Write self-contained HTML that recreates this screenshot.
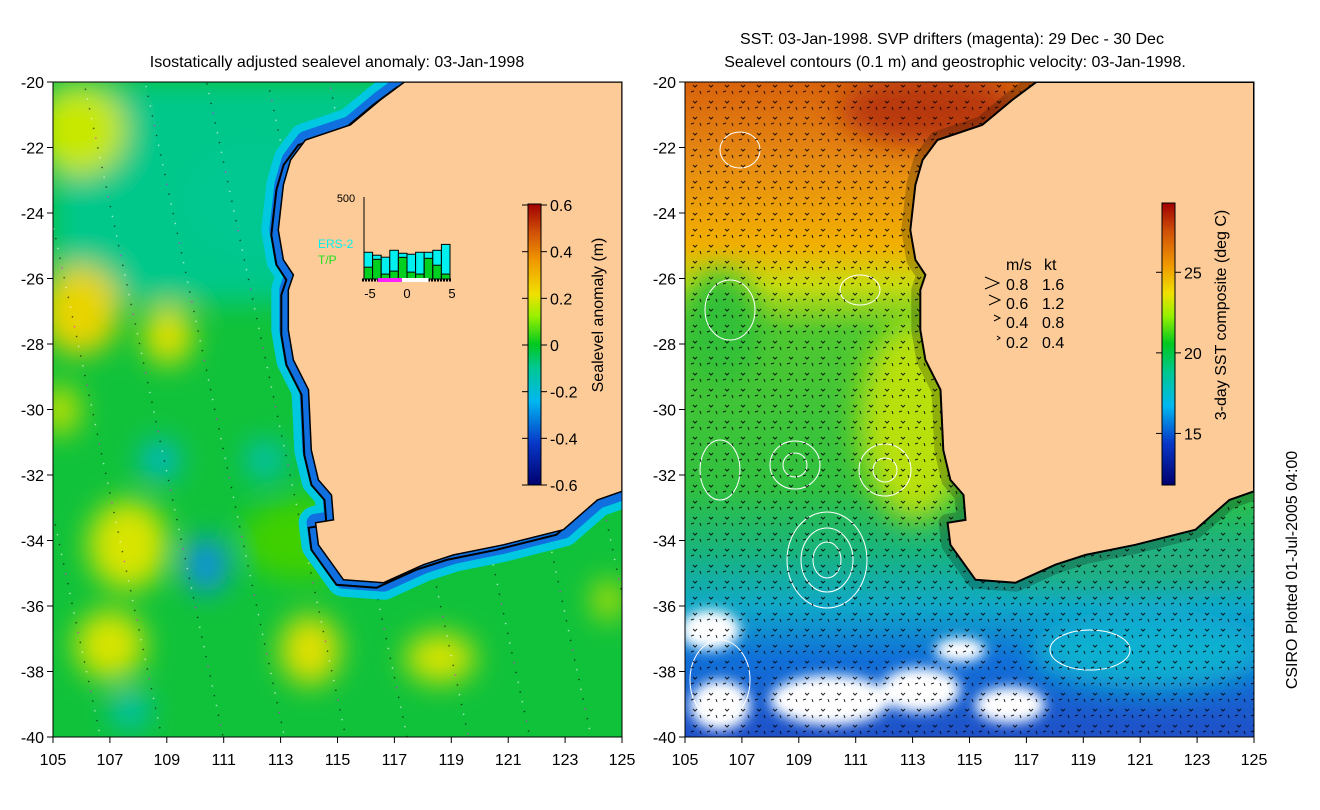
<!DOCTYPE html>
<html><head><meta charset="utf-8">
<style>
html,body{margin:0;padding:0;background:#fff;}
svg{display:block;font-family:"Liberation Sans",Arial,sans-serif;}
</style></head>
<body>
<svg id="fig" width="1320" height="810" viewBox="0 0 1320 810">
<defs>
  <filter id="blur" x="-50%" y="-50%" width="200%" height="200%"><feGaussianBlur stdDeviation="14"/></filter>
  <filter id="blur2" x="-50%" y="-50%" width="200%" height="200%"><feGaussianBlur stdDeviation="6"/></filter>
  <clipPath id="clipL"><rect x="53" y="82" width="569" height="655"/></clipPath>
  <clipPath id="clipR"><rect x="685" y="82" width="569" height="655"/></clipPath>
  <linearGradient id="sstBg" x1="0" y1="0" x2="0" y2="1">
    <stop offset="0" stop-color="#d8620c"/>
    <stop offset="0.12" stop-color="#e68a12"/>
    <stop offset="0.25" stop-color="#f2b000"/>
    <stop offset="0.31" stop-color="#c8dc10"/>
    <stop offset="0.38" stop-color="#50c830"/>
    <stop offset="0.62" stop-color="#30c040"/>
    <stop offset="0.72" stop-color="#18b480"/>
    <stop offset="0.8" stop-color="#10a8c8"/>
    <stop offset="0.88" stop-color="#1070d8"/>
    <stop offset="1" stop-color="#2050c8"/>
  </linearGradient>
  <linearGradient id="slaBar" x1="0" y1="1" x2="0" y2="0">
    <stop offset="0" stop-color="#00006e"/>
    <stop offset="0.15" stop-color="#0838c8"/>
    <stop offset="0.3" stop-color="#00b8f0"/>
    <stop offset="0.42" stop-color="#00c890"/>
    <stop offset="0.5" stop-color="#00c820"/>
    <stop offset="0.6" stop-color="#98f000"/>
    <stop offset="0.68" stop-color="#f0e000"/>
    <stop offset="0.8" stop-color="#f09800"/>
    <stop offset="0.9" stop-color="#d05008"/>
    <stop offset="1" stop-color="#a00000"/>
  </linearGradient>
  <linearGradient id="sstBar" x1="0" y1="1" x2="0" y2="0">
    <stop offset="0" stop-color="#00006e"/>
    <stop offset="0.15" stop-color="#0838c8"/>
    <stop offset="0.28" stop-color="#00b8f0"/>
    <stop offset="0.4" stop-color="#00c890"/>
    <stop offset="0.5" stop-color="#00c820"/>
    <stop offset="0.6" stop-color="#98f000"/>
    <stop offset="0.68" stop-color="#f0e000"/>
    <stop offset="0.78" stop-color="#f09800"/>
    <stop offset="0.9" stop-color="#d05008"/>
    <stop offset="1" stop-color="#a00000"/>
  </linearGradient>
  <pattern id="arrows" width="16" height="16" patternUnits="userSpaceOnUse">
    <path d="M5 5 l2 2 l2 -2 M3 12 l3 -1 M12 11 l1 3" stroke="#000" stroke-width="1" fill="none"/>
  </pattern>
  <pattern id="tracks" width="60" height="60" patternUnits="userSpaceOnUse" patternTransform="rotate(-12)">
    <circle cx="5" cy="5" r="0.8" fill="#000"/><circle cx="5" cy="15" r="0.8" fill="#fff"/>
    <circle cx="5" cy="25" r="0.8" fill="#000"/><circle cx="5" cy="35" r="0.8" fill="#f0f"/>
    <circle cx="5" cy="45" r="0.8" fill="#000"/><circle cx="5" cy="55" r="0.8" fill="#fff"/>
  </pattern>
</defs>

<!-- Titles -->
<text x="337" y="67" font-size="16" text-anchor="middle">Isostatically adjusted sealevel anomaly: 03-Jan-1998</text>
<text x="952" y="44" font-size="16" text-anchor="middle">SST: 03-Jan-1998. SVP drifters (magenta): 29 Dec - 30 Dec</text>
<text x="955" y="67" font-size="16" text-anchor="middle">Sealevel contours (0.1 m) and geostrophic velocity: 03-Jan-1998.</text>

<!-- LEFT PANEL -->
<g clip-path="url(#clipL)">
  <rect x="53" y="82" width="569" height="655" fill="#10c23a"/>
  <g filter="url(#blur)">
    <rect x="53" y="82" width="330" height="220" fill="#00c88a"/>
    <ellipse cx="250" cy="200" rx="70" ry="60" fill="#00c890"/>
    <ellipse cx="80" cy="130" rx="45" ry="45" fill="#c8e800"/>
    <ellipse cx="80" cy="310" rx="40" ry="45" fill="#e8d400"/>
    <ellipse cx="168" cy="335" rx="25" ry="30" fill="#e0e000"/>
    <ellipse cx="128" cy="545" rx="40" ry="45" fill="#d8e400"/>
    <ellipse cx="110" cy="645" rx="35" ry="35" fill="#d8e400"/>
    <ellipse cx="310" cy="650" rx="30" ry="35" fill="#e0e000"/>
    <ellipse cx="440" cy="658" rx="35" ry="25" fill="#d8e400"/>
    <ellipse cx="206" cy="565" rx="22" ry="28" fill="#1090e0"/>
    <ellipse cx="160" cy="460" rx="20" ry="20" fill="#00b8c8"/>
    <ellipse cx="265" cy="460" rx="20" ry="20" fill="#00c0b0"/>
    <ellipse cx="60" cy="410" rx="20" ry="25" fill="#c0e000"/>
    <ellipse cx="608" cy="600" rx="15" ry="20" fill="#c0e000"/>
    <ellipse cx="130" cy="710" rx="20" ry="20" fill="#00c0b0"/>
    <ellipse cx="300" cy="540" rx="60" ry="40" fill="#40d000"/>
  </g>
  <rect x="53" y="82" width="569" height="655" fill="url(#tracks)" opacity="0.7"/>
  <polyline id="shelfL" fill="none" stroke="#00c8e0" stroke-width="34" stroke-linejoin="round"/>
  <polyline id="shelfL2" fill="none" stroke="#1070e0" stroke-width="18" stroke-linejoin="round"/>
  <polyline id="isoL" fill="none" stroke="#000" stroke-width="2"/>
  <polygon id="landL" fill="#fdcb98" stroke="#000" stroke-width="1.5"/>
</g>
<rect x="53" y="82" width="569" height="655" fill="none" stroke="#000" stroke-width="1"/>
<g id="axesL"></g>

<!-- Inset histogram -->
<g id="inset">
  <text x="346" y="202" font-size="11" text-anchor="middle">500</text>
  <text x="318" y="248" font-size="12" fill="#00f0f0">ERS-2</text>
  <text x="318" y="264" font-size="12" fill="#20e020">T/P</text>
</g>

<!-- Left colorbar -->
<g id="cbL">
  <rect x="528" y="204" width="13" height="281" fill="url(#slaBar)" stroke="#000"/>
  <text transform="translate(603,315) rotate(-90)" font-size="16" text-anchor="middle">Sealevel anomaly (m)</text>
</g>

<!-- RIGHT PANEL -->
<g clip-path="url(#clipR)">
  <rect x="685" y="82" width="569" height="655" fill="url(#sstBg)"/>
  <g filter="url(#blur)">
    <ellipse cx="930" cy="110" rx="90" ry="35" fill="#b83808"/>
    <ellipse cx="915" cy="420" rx="55" ry="100" fill="#b8e010"/>
    <ellipse cx="720" cy="330" rx="40" ry="60" fill="#30c038"/>
    <ellipse cx="1120" cy="560" rx="150" ry="25" fill="#20b080"/>
    <ellipse cx="1150" cy="650" rx="120" ry="40" fill="#10b0d0"/>
  </g>
  <g filter="url(#blur2)">
    <ellipse cx="710" cy="630" rx="30" ry="20" fill="#fff"/>
    <ellipse cx="830" cy="700" rx="60" ry="25" fill="#fff"/>
    <ellipse cx="920" cy="690" rx="40" ry="22" fill="#fff"/>
    <ellipse cx="1010" cy="705" rx="35" ry="18" fill="#fff"/>
    <ellipse cx="720" cy="705" rx="30" ry="25" fill="#fff"/>
    <ellipse cx="960" cy="650" rx="25" ry="12" fill="#fff"/>
  </g>
  <g fill="none" stroke="#fff" stroke-width="1">
    <ellipse cx="827" cy="560" rx="14" ry="18"/><ellipse cx="827" cy="560" rx="26" ry="32"/><ellipse cx="827" cy="560" rx="40" ry="48"/>
    <ellipse cx="795" cy="465" rx="12" ry="12"/><ellipse cx="795" cy="465" rx="25" ry="24"/>
    <ellipse cx="885" cy="470" rx="12" ry="12"/><ellipse cx="885" cy="470" rx="26" ry="26"/>
    <ellipse cx="730" cy="310" rx="25" ry="30"/><ellipse cx="720" cy="470" rx="20" ry="30"/>
    <ellipse cx="860" cy="290" rx="20" ry="15"/><ellipse cx="740" cy="150" rx="20" ry="18"/>
    <ellipse cx="1090" cy="650" rx="40" ry="20"/><ellipse cx="720" cy="680" rx="30" ry="40"/>
  </g>
  <rect x="685" y="82" width="569" height="655" fill="url(#arrows)" opacity="0.85"/>
  <polyline id="shelfR" fill="none" stroke="#000" stroke-width="18" stroke-linejoin="round" opacity="0.22"/>
  <polygon id="landR" fill="#fdcb98" stroke="#000" stroke-width="2"/>
</g>
<rect x="685" y="82" width="569" height="655" fill="none" stroke="#000" stroke-width="1"/>
<g id="axesR"></g>

<!-- velocity legend -->
<g font-size="16">
  <text x="1006" y="270">m/s</text><text x="1044" y="270">kt</text>
  <path d="M985 277 l14 6 l-14 6 M989 295 l11 5 l-11 5 M994 315 l6 3 l-6 3 M997 336 l3 2 l-3 2" stroke="#000" fill="none"/>
  <text x="1006" y="290">0.8</text><text x="1042" y="290">1.6</text>
  <text x="1006" y="309">0.6</text><text x="1042" y="309">1.2</text>
  <text x="1006" y="328">0.4</text><text x="1042" y="328">0.8</text>
  <text x="1006" y="348">0.2</text><text x="1042" y="348">0.4</text>
</g>

<!-- Right colorbar -->
<g id="cbR">
  <rect x="1162" y="203" width="13" height="282" fill="url(#sstBar)" stroke="#000"/>
  <text transform="translate(1226,315) rotate(-90)" font-size="16" text-anchor="middle">3-day SST composite (deg C)</text>
</g>

<text transform="translate(1297,570) rotate(-90)" font-size="16" text-anchor="middle">CSIRO Plotted 01-Jul-2005 04:00</text>

<script>
// ---- data ----
const lonTicks = [105,107,109,111,113,115,117,119,121,123,125];
const latTicks = [-20,-22,-24,-26,-28,-30,-32,-34,-36,-38,-40];
const histBins = [-5,-4,-3,-2,-1,0,1,2,3,4];
const histTotal = [163,145,133,175,157,151,163,163,175,211];
const histTP = [72,120,30,48,132,42,30,126,84,30];
const slaTicks = [0.6,0.4,0.2,0,-0.2,-0.4,-0.6];
const slaTickLabels = ["0.6","0.4","0.2","0","-0.2","-0.4","-0.6"];
const sstTicks = [25,20,15];
const sstTickLabels = ["25","20","15"];
// coastline (lon, lat)
const coastLon = [117.35,116.5,115.45,113.87,113.35,113.1,112.92,113.1,113.45,113.27,113.27,113.45,113.98,114.08,114.33,114.79,114.86,114.23,114.33,115.21,116.62,118.02,119.08,120.83,122.94,124.14];
const coastLat = [-20,-20.55,-21.31,-21.77,-22.38,-23.14,-24.52,-25.43,-25.89,-26.35,-27.57,-28.49,-29.4,-31.24,-32.15,-32.61,-33.37,-33.46,-34.13,-35.2,-35.29,-34.74,-34.44,-34.13,-33.67,-32.76];

const NS = "http://www.w3.org/2000/svg";
function mk(tag, attrs, parent){const e=document.createElementNS(NS,tag);for(const k in attrs)e.setAttribute(k,attrs[k]);parent.appendChild(e);return e;}
function X(lon,x0){return x0+(lon-105)*28.45;}
function Y(lat){return 82+(-20-lat)*32.75;}

function coastPts(x0, closeLand){
  let p = coastLon.map((l,i)=>X(l,x0).toFixed(1)+","+Y(coastLat[i]).toFixed(1));
  if(closeLand){p.push(X(125,x0)+","+Y(-32.5)); p.push(X(125,x0)+","+Y(-20));}
  return p.join(" ");
}
document.getElementById('landL').setAttribute('points', coastPts(53,true));
document.getElementById('landR').setAttribute('points', coastPts(685,true));
document.getElementById('shelfL').setAttribute('points', coastPts(53,false)+" "+X(125,53)+","+Y(-32.5));
document.getElementById('shelfL2').setAttribute('points', coastPts(53,false)+" "+X(125,53)+","+Y(-32.5));
document.getElementById('shelfR').setAttribute('points', coastPts(685,false)+" "+X(125,685)+","+Y(-32.5));
document.getElementById('isoL').setAttribute('points', coastLon.map((l,i)=>(X(l,53)-7).toFixed(1)+","+(Y(coastLat[i])+5).toFixed(1)).join(" "));

function axes(gid,x0){
  const g=document.getElementById(gid);
  lonTicks.forEach(v=>{
    const x=X(v,x0);
    const t=mk('line',{x1:x,x2:x,y1:737,y2:743,stroke:'#000'},g);
    
    
    const tx=mk('text',{x:x,y:765,'font-size':16,'text-anchor':'middle'},g);
    tx.textContent=v;
    
    
  });
  latTicks.forEach(v=>{
    const y=Y(v);
    const t=mk('line',{x1:x0-6,x2:x0,y1:y,y2:y,stroke:'#000'},g);
    
    
    const tx=mk('text',{x:x0-9,y:y+6,'font-size':16,'text-anchor':'end'},g);
    tx.textContent=v;
    
    
  });
}
axes('axesL',53); axes('axesR',685);

(function(){
  const g=document.getElementById('inset');
  const base=279, top=197, maxV=500, hx0=364, bw=8.6;
  const hy=v=>base-(v/maxV)*(base-top);
  const hxv=v=>hx0+(v+5)*bw;
  mk('line',{x1:hx0,x2:hx0,y1:top,y2:base,stroke:'#000'},g);
  histBins.forEach((b,i)=>{
    const r=mk('rect',{x:hxv(b),y:hy(histTotal[i]),width:bw,height:base-hy(histTotal[i]),fill:'#00f0f0',stroke:'#000','stroke-width':1},g);
    
    
    const r2=mk('rect',{x:hxv(b),y:hy(histTP[i]),width:bw,height:base-hy(histTP[i]),fill:'#00d020',stroke:'#000','stroke-width':1},g);
    
    
  });
  mk('line',{x1:hx0-2,x2:hxv(5)+2,y1:base+1,y2:base+1,stroke:'#000','stroke-width':3,'stroke-dasharray':'2 1'},g);
  mk('rect',{x:hxv(-3.4),y:base-1,width:hxv(-0.6)-hxv(-3.4),height:4,fill:'#ff20ff'},g);
  mk('rect',{x:hxv(-0.6),y:base-1,width:hxv(2.5)-hxv(-0.6),height:4,fill:'#fff'},g);
  [-5,0,5].forEach(v=>{
    const x=v===-5?hx0+6:(v===5?hxv(5)+2:hx0+(v+5)*bw);
    const t=mk('text',{x:x,y:298,'font-size':13,'text-anchor':'middle'},g);
    t.textContent=v;
    
    
  });
})();

function cbTicks(gid,x,yTop,yBot,vTop,vBot,vals,labels){
  const g=document.getElementById(gid);
  const cy=v=>yTop+(vTop-v)/(vTop-vBot)*(yBot-yTop);
  vals.forEach((v,i)=>{
    const y=cy(v);
    mk('line',{x1:x,x2:x+6,y1:y,y2:y,stroke:'#000'},g);
    mk('line',{x1:x-19,x2:x-13,y1:y,y2:y,stroke:'#000'},g);
    const t=mk('text',{x:x+9,y:y+6,'font-size':16},g);
    t.textContent=labels[i];
    
    
  });
}
cbTicks('cbL',541,205,485,0.6,-0.6,slaTicks,slaTickLabels);
cbTicks('cbR',1175,203,485,29.3,11.8,sstTicks,sstTickLabels);
</script>
</svg>
</body></html>
